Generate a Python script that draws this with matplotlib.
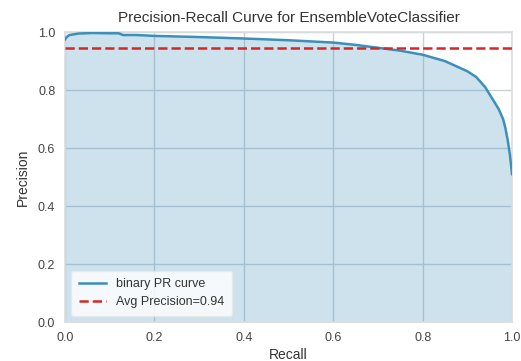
import matplotlib
matplotlib.use("Agg")
import matplotlib.pyplot as plt

# values
recall = [0.0, 0.005, 0.01, 0.03, 0.06, 0.10, 0.12, 0.13, 0.16, 0.20, 0.30,
          0.40, 0.50, 0.60, 0.65, 0.70, 0.75, 0.80, 0.85, 0.90, 0.92, 0.94,
          0.95, 0.96, 0.97, 0.98, 0.985, 0.99, 0.995, 1.0]
precision = [0.975, 0.985, 0.99, 0.995, 0.997, 0.996, 0.996, 0.99, 0.99, 0.987,
             0.983, 0.978, 0.972, 0.964, 0.956, 0.946, 0.936, 0.922, 0.90,
             0.865, 0.845, 0.81, 0.785, 0.76, 0.735, 0.70, 0.67, 0.63, 0.58, 0.51]
avg_precision = 0.944
model_name = "EnsembleVoteClassifier"

line_color = "#3c8fb9"
plt.rcParams["font.family"] = "Liberation Sans"

fig = plt.figure(figsize=(5.21, 3.61), dpi=100)
ax = fig.add_axes([0.1248, 0.108, 0.858, 0.803])
ax.set_facecolor("white")

ax.grid(True, color="#c9d1d8", linewidth=1.0, zorder=0)
ax.set_axisbelow(True)

ax.fill_between(recall, precision, 0, color=line_color, alpha=0.25,
                linewidth=0, zorder=1)
ax.plot(recall, precision, color=line_color, linewidth=1.8,
        label="binary PR curve", zorder=3)
ax.axhline(avg_precision, color="#d62728", linestyle="--", linewidth=1.8,
           label="Avg Precision={:0.2f}".format(avg_precision), zorder=4)

ax.set_xlim(0, 1)
ax.set_ylim(0, 1)
ax.set_xticks([0.0, 0.2, 0.4, 0.6, 0.8, 1.0])
ax.set_yticks([0.0, 0.2, 0.4, 0.6, 0.8, 1.0])
ax.tick_params(labelsize=9, colors="#444444", length=0, pad=7)
for s in ax.spines.values():
    s.set_color("#dddddd")
    s.set_linewidth(1.2)

ax.set_title("Precision-Recall Curve for " + model_name, fontsize=11,
             color="#333333", pad=7)
ax.set_xlabel("Recall", fontsize=10, color="#333333", labelpad=3)
ax.set_ylabel("Precision", fontsize=10, color="#333333", labelpad=6)

leg = ax.legend(loc="lower left", fontsize=9, frameon=True, fancybox=True,
                framealpha=0.8, facecolor="white", edgecolor="#e8e8e8",
                borderpad=0.6, handlelength=2.2)
for t in leg.get_texts():
    t.set_color("#333333")

fig.savefig("out.png", dpi=100)
